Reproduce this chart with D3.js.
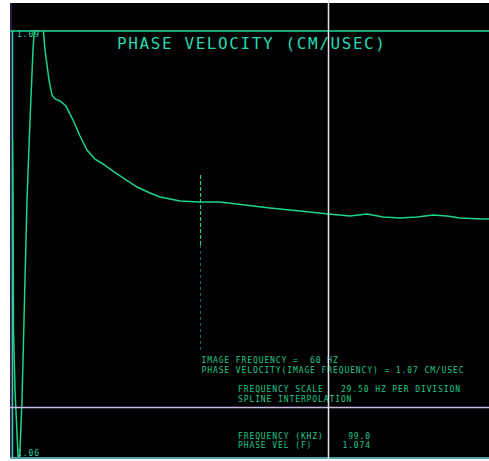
<!DOCTYPE html>
<html>
<head>
<meta charset="utf-8">
<script src="https://cdn.jsdelivr.net/npm/d3@7"></script>
<style>
html,body{margin:0;padding:0;background:#fff;}
svg{display:block;}
text{font-family:"DejaVu Sans Mono",monospace;white-space:pre;}
</style>
</head>
<body>
<svg id="chart" width="489" height="461"></svg>
<script>
// ---- data (frequency in Hz, phase velocity in cm/usec) ----
const frequency = [3.33, 3.48, 3.63, 4.08, 4.99, 5.29, 5.59, 6.20, 7.71, 8.62, 9.52, 10.13, 11.03, 12.24, 13.15, 14.36, 15.27, 16.17, 17.69, 19.50, 21.62, 23.73, 25.85, 28.27, 30.69, 33.71, 36.73, 40.97, 44.90, 47.92, 53.97, 60.01, 66.06, 71.20, 76.04, 81.18, 87.22, 93.27, 98.71, 105.36, 110.50, 115.34, 120.48, 125.62, 130.46, 134.69, 138.62, 145.57, 147.39];
const phaseVelocity = [1.08229, 1.07804, 1.06884, 1.06460, 1.06000, 1.05894, 1.06035, 1.06389, 1.07804, 1.08370, 1.08866, 1.09078, 1.09219, 1.09113, 1.08866, 1.08653, 1.08547, 1.08519, 1.08505, 1.08469, 1.08370, 1.08257, 1.08158, 1.08094, 1.08059, 1.08009, 1.07960, 1.07896, 1.07854, 1.07825, 1.07797, 1.07790, 1.07790, 1.07776, 1.07762, 1.07748, 1.07733, 1.07719, 1.07705, 1.07691, 1.07705, 1.07684, 1.07677, 1.07684, 1.07698, 1.07691, 1.07677, 1.07670, 1.07670];
const yTickLabels = ["1.09", "1.06"];
const yTickValues = [1.09, 1.06];
const imageFrequency = 60;
const cursorFrequency = 99.0;
const cursorVelocity = "1.074";
const titleText = "PHASE VELOCITY (CM/USEC)";
const infoLines = [
  "IMAGE FREQUENCY =  60 HZ",
  "PHASE VELOCITY(IMAGE FREQUENCY) = 1.07 CM/USEC"
];
const scaleLines = [
  "FREQUENCY SCALE   29.50 HZ PER DIVISION",
  "SPLINE INTERPOLATION"
];
const readoutLabels = ["FREQUENCY (KHZ)", "PHASE VEL (F)"];
const readoutValues = [cursorFrequency.toFixed(1), cursorVelocity];

// ---- layout ----
const W = 489, H = 461;
const screen = {x0: 12, x1: 489, y0: 31, y1: 457};
const svg = d3.select("#chart");

const x = d3.scaleLinear().domain([0, 147.5]).range([1.5, 489.4]);
const y = d3.scaleLinear().domain([1.06, 1.09]).range([455, 31]);

// screen background
svg.append("rect").attr("x", 10).attr("y", 3).attr("width", W - 10).attr("height", 456).attr("fill", "#010103");
svg.append("rect").attr("x", 10).attr("y", 3).attr("width", 2).attr("height", 456).attr("fill", "#2a1840");

// frame lines
svg.append("line").attr("x1", 10).attr("x2", W).attr("y1", 31).attr("y2", 31)
  .attr("stroke", "#14a872").attr("stroke-width", 2);
svg.append("line").attr("x1", 12.5).attr("x2", 12.5).attr("y1", 31).attr("y2", 458)
  .attr("stroke", "#3cc4b8").attr("stroke-width", 1.5);
svg.append("line").attr("x1", 10).attr("x2", W).attr("y1", 458).attr("y2", 458)
  .attr("stroke", "#6ad8e0").attr("stroke-width", 1.5);

// clip for plot
svg.append("clipPath").attr("id", "clip").append("rect")
  .attr("x", screen.x0).attr("y", screen.y0).attr("width", screen.x1 - screen.x0).attr("height", screen.y1 - screen.y0);

// dashed image-frequency marker
const xm = Math.round(x(imageFrequency)) + 0.5;
svg.append("line").attr("x1", xm).attr("x2", xm).attr("y1", 175).attr("y2", 245)
  .attr("stroke", "#1fcf80").attr("stroke-width", 1.2).attr("stroke-dasharray", "4,2");
svg.append("line").attr("x1", xm).attr("x2", xm).attr("y1", 245).attr("y2", 352)
  .attr("stroke", "#1a6a60").attr("stroke-width", 1).attr("stroke-dasharray", "3,3");

// curve
const data = frequency.map((f, i) => [f, phaseVelocity[i]]);
const line = d3.line().x(d => x(d[0])).y(d => y(d[1])).curve(d3.curveLinear);
svg.append("path").datum(data).attr("d", line).attr("clip-path", "url(#clip)")
  .attr("fill", "none").attr("stroke", "#1ed486").attr("stroke-width", 1.5);

// title
svg.append("text").attr("x", 117).attr("y", 49).attr("font-size", 16).attr("letter-spacing", 1.6)
  .attr("fill", "#27d8ae").text(titleText);

// y labels
svg.selectAll(".ylab").data(yTickValues).enter().append("text")
  .attr("x", 17).attr("y", (d, i) => i === 0 ? 37 : 456)
  .attr("font-size", 8).attr("letter-spacing", 0.9).attr("fill", "#2ad0a0")
  .text((d, i) => yTickLabels[i]);

// info text
const small = {size: 8, ls: 0.9, fill: "#1fc884"};
svg.selectAll(".info").data(infoLines).enter().append("text")
  .attr("x", xm + 1).attr("y", (d, i) => 362.5 + i * 10)
  .attr("font-size", small.size).attr("letter-spacing", small.ls).attr("fill", small.fill).text(d => d);
svg.selectAll(".scl").data(scaleLines).enter().append("text")
  .attr("x", 238).attr("y", (d, i) => 391.5 + i * 10)
  .attr("font-size", small.size).attr("letter-spacing", small.ls).attr("fill", small.fill).text(d => d);
svg.selectAll(".rl").data(readoutLabels).enter().append("text")
  .attr("x", 238).attr("y", (d, i) => 438.5 + i * 9)
  .attr("font-size", small.size).attr("letter-spacing", small.ls).attr("fill", small.fill).text(d => d);
svg.selectAll(".rv").data(readoutValues).enter().append("text")
  .attr("x", 371).attr("y", (d, i) => 438.5 + i * 9).attr("text-anchor", "end")
  .attr("font-size", small.size).attr("letter-spacing", small.ls).attr("fill", small.fill).text(d => d);

// lavender horizontal line
svg.append("line").attr("x1", 10).attr("x2", W).attr("y1", 407.5).attr("y2", 407.5)
  .attr("stroke", "#cbbbe6").attr("stroke-width", 1.5);

// white cursor line
const xc = Math.round(x(cursorFrequency)) - 0.5;
svg.append("line").attr("x1", xc).attr("x2", xc).attr("y1", 0).attr("y2", H)
  .attr("stroke", "#e4e4e4").attr("stroke-width", 1.5);
</script>
</body>
</html>
